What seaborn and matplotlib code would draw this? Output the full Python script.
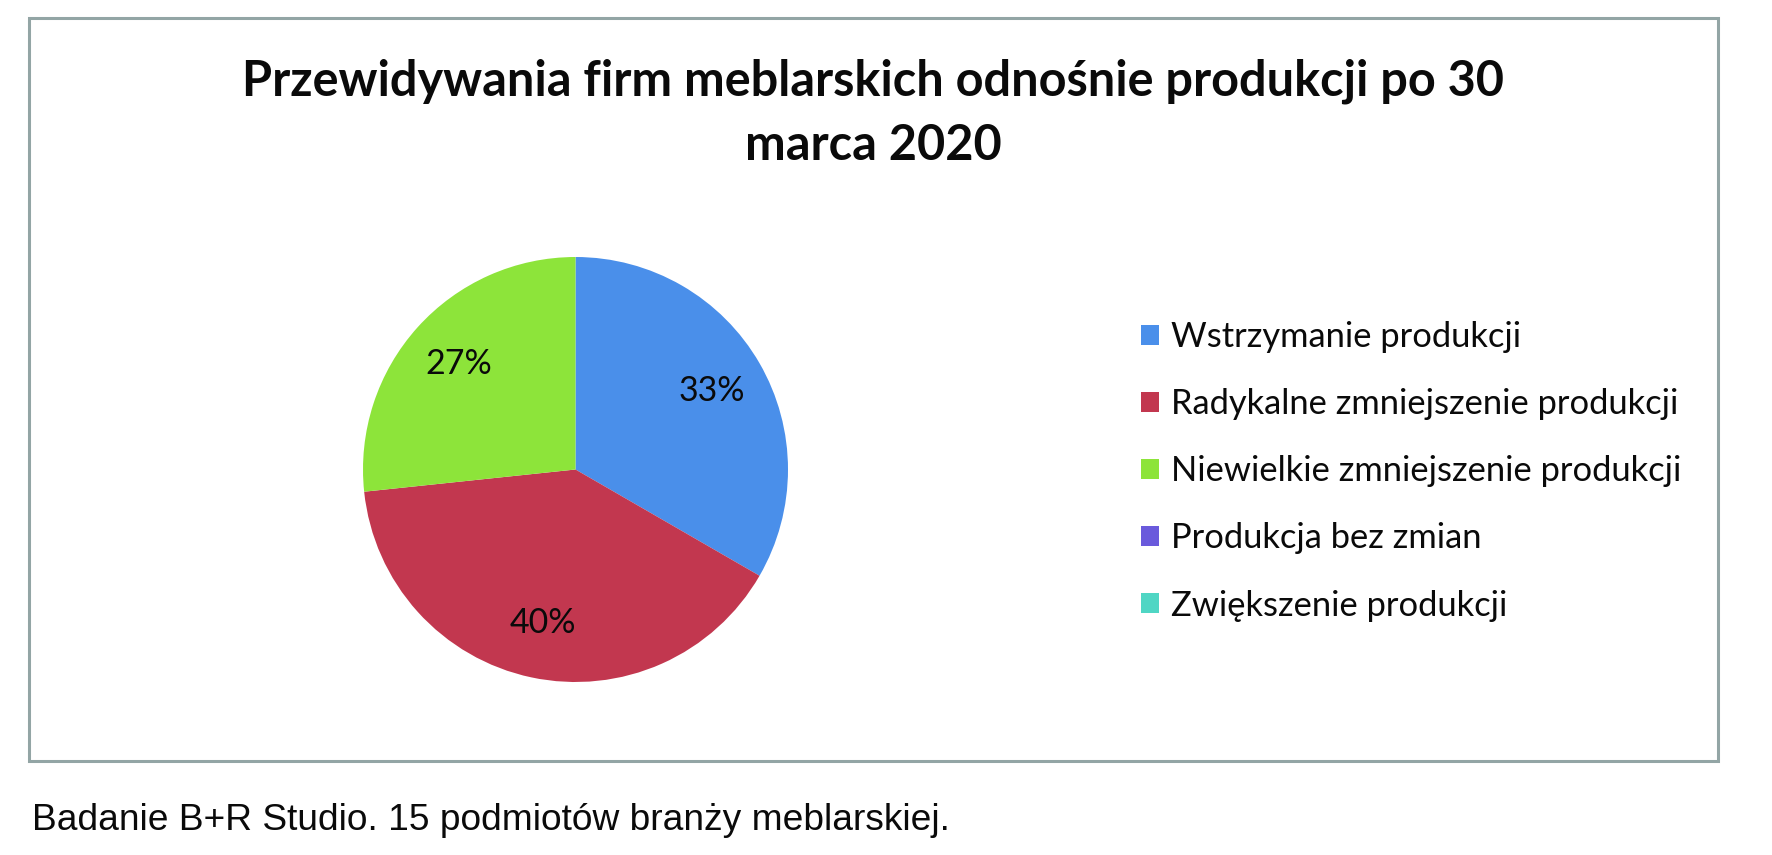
import matplotlib
matplotlib.use("Agg")
import matplotlib.pyplot as plt
import seaborn as sns
from matplotlib.patches import Rectangle

# data (15 firms surveyed)
categories = [
    "Wstrzymanie produkcji",
    "Radykalne zmniejszenie produkcji",
    "Niewielkie zmniejszenie produkcji",
    "Produkcja bez zmian",
    "Zwiększenie produkcji",
]
counts = [5, 6, 4, 0, 0]
colors = ["#4A8FEA", "#C2374F", "#8DE43A", "#6A5ADC", "#4FD6C4"]

title = "Przewidywania firm meblarskich odnośnie produkcji po 30\nmarca 2020"
caption = "Badanie B+R Studio. 15 podmiotów branży meblarskiej."

sns.set_theme(style="white")
plt.rcParams["font.family"] = ["Lato", "DejaVu Sans"]

W, H = 1772, 855
fig = plt.figure(figsize=(W / 100, H / 100), dpi=100)
fig.patch.set_facecolor("white")

# outer chart frame
fig.patches.append(Rectangle((29 / W, 1 - 761 / H), (1718 - 29) / W, (761 - 18) / H,
                             transform=fig.transFigure, fill=False,
                             edgecolor="#93A5A5", linewidth=2.2))

# pie
cx, cy, r = 575.5, 469.5, 212.5
ax = fig.add_axes([(cx - r) / W, 1 - (cy + r) / H, 2 * r / W, 2 * r / H])
palette = sns.color_palette(colors)


def fmt(p):
    return "%.0f%%" % p if p > 0 else ""


wedges, _, autotexts = ax.pie(counts, colors=palette, startangle=90, counterclock=False,
                              autopct=fmt, pctdistance=0.74, radius=1.0,
                              wedgeprops=dict(linewidth=0),
                              textprops=dict(fontsize=24.5, color="#0A0A0A"))
ax.set_xlim(-1, 1)
ax.set_ylim(-1, 1)
ax.set_aspect("equal")
ax.axis("off")

leg = fig.legend(wedges, categories, loc="upper left", bbox_to_anchor=(1141 / W, 1 - 321 / H),
                 frameon=False, fontsize=24.8, handlelength=0.52, handleheight=0.52,
                 handletextpad=0.35, labelspacing=1.02, borderpad=0, borderaxespad=0)
for t in leg.get_texts():
    t.set_color("#0A0A0A")

fig.text(873 / W, 1 - 81 / H, title.split("\n")[0], ha="center", va="center",
         fontsize=35, fontweight="bold", color="#0A0A0A")
fig.text(873 / W, 1 - 145 / H, title.split("\n")[1], ha="center", va="center",
         fontsize=35, fontweight="bold", color="#0A0A0A")

fig.text(32 / W, 1 - 820 / H, caption, ha="left", va="center",
         fontsize=26.7, family="Liberation Sans", color="#0A0A0A")

fig.savefig("out.png", dpi=100, facecolor="white")
